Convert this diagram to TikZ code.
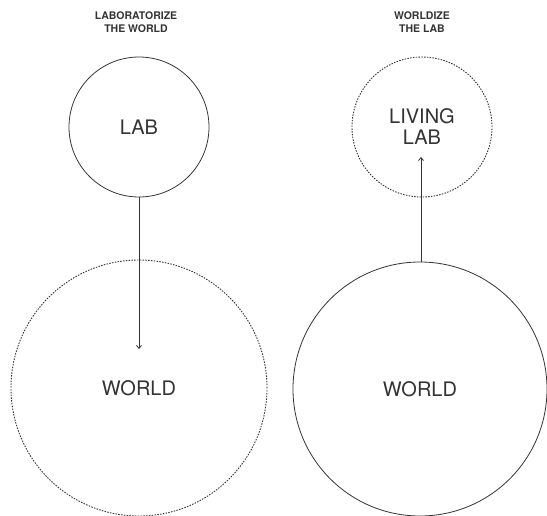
\documentclass[tikz,border=0pt]{standalone}
\usepackage{fontspec}
\setmainfont{TeX Gyre Heros}
\usetikzlibrary{arrows.meta}
\definecolor{ink}{HTML}{333333}
\begin{document}
\begin{tikzpicture}[x=1pt,y=-1pt,
  ring/.style={circle,draw=ink,line width=0.8pt,inner sep=0pt,text=ink,font=\fontsize{20}{21}\selectfont,align=center},
  dotring/.style={ring,line width=0.9pt,dash pattern=on 1.5pt off 1.3pt},
  title/.style={text=ink,font=\bfseries\fontsize{10.5}{13}\selectfont,align=center},
  link/.style={draw=ink,line width=0.8pt,-{Straight Barb[length=3pt,width=5pt]}}]
\useasboundingbox (0,0) rectangle (547,516);
\node[title] (t1) at (136,22) {LABORATORIZE\\THE WORLD};
\node[title] (t2) at (422,22) {WORLDIZE\\THE LAB};
\node[ring,minimum size=140pt] (lab) at (139,127) {LAB};
\node[dotring,minimum size=256pt] (world1) at (139,388) {WORLD};
\node[dotring,minimum size=140pt] (llab) at (422,127) {LIVING\\LAB};
\node[ring,minimum size=254pt] (world2) at (420,389) {WORLD};
\coordinate (tip1) at (139,349);
\coordinate (tip2) at (421,157);
\draw[link] (lab.south) -- (tip1);
\draw[link] (world2.north -| tip2) -- (tip2);
\end{tikzpicture}
\end{document}
